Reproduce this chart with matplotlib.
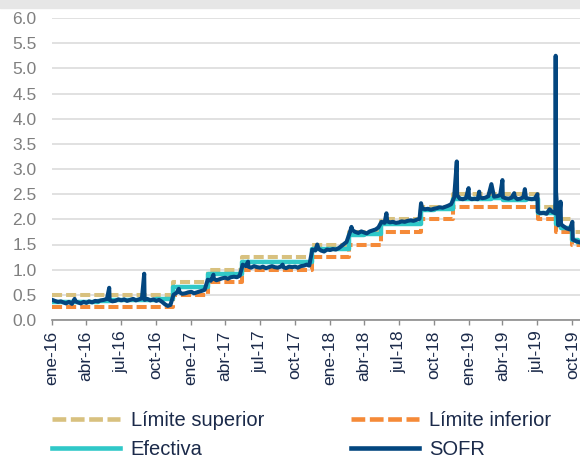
import matplotlib
matplotlib.use('Agg')
import matplotlib.pyplot as plt
from matplotlib.lines import Line2D
from matplotlib.patches import Rectangle
import pandas as pd

plt.rcParams['font.family'] = ['Liberation Sans', 'DejaVu Sans']

# Rango objetivo de la Fed (cambios, escalonado)
range_dates = ['2016-01-31', '2016-12-15', '2017-03-16', '2017-06-15', '2017-12-14',
               '2018-03-22', '2018-06-14', '2018-09-27', '2018-12-20', '2019-08-01',
               '2019-09-19', '2019-10-31', '2019-11-20']
upper = [0.50, 0.75, 1.00, 1.25, 1.50, 1.75, 2.00, 2.25, 2.50, 2.25, 2.00, 1.75, 1.75]
lower = [0.25, 0.50, 0.75, 1.00, 1.25, 1.50, 1.75, 2.00, 2.25, 2.00, 1.75, 1.50, 1.50]

# Tasa efectiva (cambios, escalonado)
effr_dates = ['2016-01-31', '2016-06-01', '2016-07-01', '2016-11-01', '2016-12-15',
              '2017-03-16', '2017-06-15', '2017-12-14', '2018-03-22', '2018-05-01',
              '2018-06-14', '2018-09-27', '2018-11-01', '2018-12-20', '2019-04-01',
              '2019-05-02', '2019-07-01', '2019-08-01', '2019-09-17', '2019-09-18',
              '2019-09-19', '2019-10-01', '2019-10-31', '2019-11-16']
effr = [0.36, 0.38, 0.40, 0.41, 0.66, 0.91, 1.16, 1.42, 1.68, 1.70,
        1.91, 2.18, 2.20, 2.40, 2.43, 2.38, 2.40, 2.13, 2.30, 2.25,
        1.90, 1.83, 1.58, 1.55]

# SOFR: valores los días 1, 8, 16 y 24 de cada mes (feb-16 a nov-19)
sofr_2016 = [0.40, 0.38, 0.36, 0.37,   # feb
             0.35, 0.33, 0.36, 0.32,   # mar
             0.38, 0.35, 0.33, 0.36,   # abr
             0.34, 0.37, 0.35, 0.38,   # may
             0.37, 0.39, 0.40, 0.42,   # jun
             0.40, 0.37, 0.38, 0.41,   # jul
             0.39, 0.41, 0.38, 0.40,   # ago
             0.42, 0.39, 0.41, 0.43,   # sep
             0.40, 0.42, 0.39, 0.41,   # oct
             0.38, 0.40, 0.36, 0.31,   # nov
             0.28, 0.30, 0.50, 0.54]   # dic
sofr_2017 = [0.55, 0.52, 0.53, 0.55,
             0.56, 0.53, 0.55, 0.57,
             0.58, 0.60, 0.80, 0.78,
             0.82, 0.79, 0.81, 0.83,
             0.84, 0.82, 0.85, 0.86,
             0.85, 0.88, 1.10, 1.07,
             1.06, 1.04, 1.07, 1.05,
             1.04, 1.06, 1.03, 1.05,
             1.07, 1.05, 1.04, 1.06,
             1.05, 1.03, 1.06, 1.05,
             1.06, 1.04, 1.07, 1.08,
             1.10, 1.08, 1.40, 1.38]
sofr_2018 = [1.42, 1.38, 1.36, 1.40,
             1.39, 1.41, 1.40, 1.43,
             1.46, 1.50, 1.55, 1.72,
             1.78, 1.75, 1.73, 1.76,
             1.74, 1.72, 1.76, 1.78,
             1.80, 1.84, 1.95, 1.93,
             1.96, 1.94, 1.95, 1.93,
             1.94, 1.96, 1.95, 1.97,
             1.98, 1.97, 1.99, 2.01,
             2.22, 2.20, 2.21, 2.19,
             2.21, 2.22, 2.24, 2.23,
             2.25, 2.27, 2.30, 2.43]
sofr_2019 = [2.48, 2.41, 2.40, 2.42,
             2.43, 2.40, 2.41, 2.40,
             2.44, 2.42, 2.43, 2.46,
             2.70, 2.45, 2.46, 2.48,
             2.44, 2.42, 2.41, 2.43,
             2.45, 2.40, 2.41, 2.44,
             2.42, 2.41, 2.40, 2.41,
             2.15, 2.12, 2.13, 2.11,
             2.20, 2.15, 2.12, 1.88,
             1.90, 1.86, 1.82, 1.80,
             1.60, 1.57, 1.55]

# Picos de fin de mes / trimestre
spike_dates = ['2016-03-31', '2016-06-30', '2016-09-30', '2016-12-30', '2017-03-31',
               '2017-06-30', '2017-09-29', '2017-12-29', '2018-03-29', '2018-06-29',
               '2018-09-28', '2018-12-31', '2019-01-31', '2019-02-28', '2019-04-30',
               '2019-05-31', '2019-06-28', '2019-07-31', '2019-09-17', '2019-09-18',
               '2019-09-30', '2019-10-31']
spike_vals = [0.42, 0.64, 0.92, 0.62, 0.90, 1.16, 1.10, 1.50, 1.85, 2.12,
              2.32, 3.15, 2.62, 2.55, 2.78, 2.52, 2.60, 2.50, 5.25, 2.55,
              2.35, 1.95]

tick_dates = pd.date_range('2016-01-31', '2019-10-31', freq='3ME')
tick_labels = ['ene-16', 'abr-16', 'jul-16', 'oct-16', 'ene-17', 'abr-17', 'jul-17', 'oct-17',
               'ene-18', 'abr-18', 'jul-18', 'oct-18', 'ene-19', 'abr-19', 'jul-19', 'oct-19']

# armar serie SOFR
months = pd.date_range('2016-02-01', '2019-11-01', freq='MS')
base_dates = [m + pd.Timedelta(days=d - 1) for m in months for d in (1, 8, 16, 24)]
sofr_base = sofr_2016 + sofr_2017 + sofr_2018 + sofr_2019
sofr = pd.Series(sofr_base, index=pd.DatetimeIndex(base_dates[:len(sofr_base)]))
spikes = pd.Series(spike_vals, index=pd.to_datetime(spike_dates))
sofr = pd.concat([sofr[~sofr.index.isin(spikes.index)], spikes]).sort_index()

c_sup = '#D8C17F'
c_inf = '#F58A38'
c_efe = '#30C8C8'
c_sofr = '#03467F'
c_text = '#1B2A4A'

fig = plt.figure(figsize=(5.8, 4.58), dpi=100)
fig.patches.append(Rectangle((0, 1 - 8 / 458), 1, 8 / 458, transform=fig.transFigure,
                             color='#E6E6E6', zorder=0))
ax = fig.add_axes([51.8 / 580, 1 - 320 / 458, 1 - 51.8 / 580, 302 / 458])

ax.plot(pd.to_datetime(range_dates), upper, drawstyle='steps-post', color=c_sup,
        lw=2.9, dashes=(2.5, 1.0), dash_capstyle='butt')
ax.plot(pd.to_datetime(range_dates), lower, drawstyle='steps-post', color=c_inf,
        lw=2.9, dashes=(2.5, 1.0), dash_capstyle='butt')
ax.plot(pd.to_datetime(effr_dates), effr, drawstyle='steps-post', color=c_efe, lw=3.2)
ax.plot(sofr.index, sofr.values, color=c_sofr, lw=2.9)

ax.set_ylim(0, 6)
ax.set_yticks([i * 0.5 for i in range(13)])
ax.set_yticklabels([f'{i * 0.5:.1f}' for i in range(13)])
ax.set_xlim(pd.Timestamp('2016-01-31'), pd.Timestamp('2019-11-20'))
ax.set_xticks(tick_dates)
ax.set_xticklabels(tick_labels, rotation=90)

ax.grid(axis='y', color='#DCDCDC', lw=1.2)
ax.set_axisbelow(True)
for s in ['left', 'right', 'top']:
    ax.spines[s].set_visible(False)
ax.spines['bottom'].set_color('#8C8C8C')
ax.spines['bottom'].set_linewidth(1.2)
ax.tick_params(axis='y', length=0, pad=11, labelsize=12.5, labelcolor='#7F7F7F')
ax.tick_params(axis='x', length=3.6, width=1, color='#8C8C8C', pad=4,
               labelsize=12.5, labelcolor=c_text)

handles = [
    Line2D([], [], color=c_sup, lw=3.3, dashes=(3.0, 1.0)),
    Line2D([], [], color=c_efe, lw=3.3),
    Line2D([], [], color=c_inf, lw=3.3, dashes=(3.0, 1.0)),
    Line2D([], [], color=c_sofr, lw=3.3),
]
labels = ['Límite superior', 'Efectiva', 'Límite inferior', 'SOFR']
leg = fig.legend(handles, labels, ncol=2, loc='upper left',
                 bbox_to_anchor=(52 / 580, 1 - 411 / 458), frameon=False,
                 fontsize=14.5, handlelength=3.4, handletextpad=0.5,
                 columnspacing=4.3, labelspacing=0.5, borderpad=0, borderaxespad=0)
for t in leg.get_texts():
    t.set_color(c_text)

fig.savefig('out.png', dpi=100)
